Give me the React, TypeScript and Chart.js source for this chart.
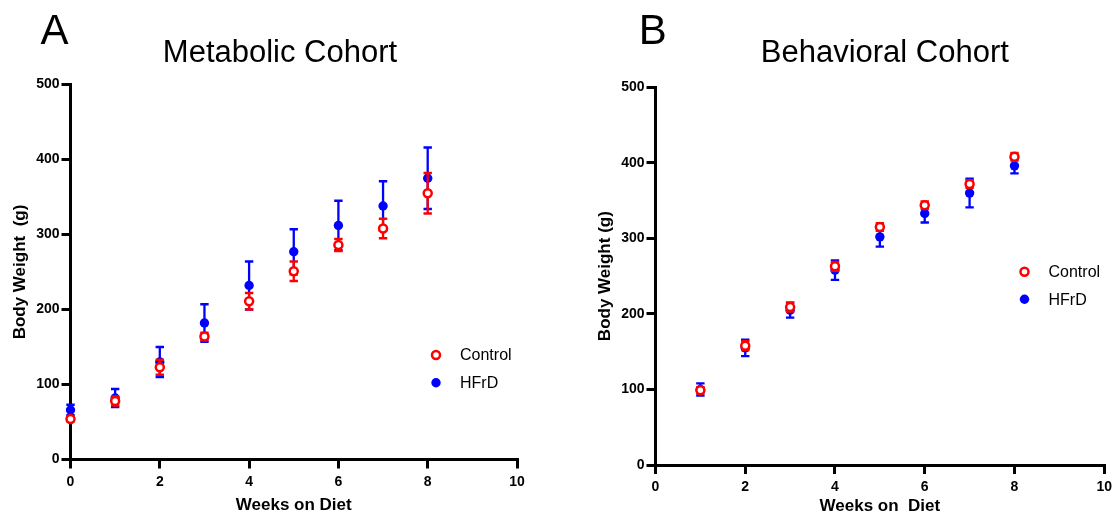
import { useEffect, useRef } from "react";
import { Chart, registerables } from "chart.js";

Chart.register(...registerables);

const FONT = "'Liberation Sans', Arial, Helvetica, sans-serif";

// ---------------- data ----------------
const weeksA = [0, 1, 2, 3, 4, 5, 6, 7, 8];
const controlMeanA = [54, 78, 123, 164, 211, 251, 286, 308, 355];
const controlErrA = [3, 6, 10, 5, 11, 13, 8, 13, 27];
const hfrdMeanA = [66, 82, 130, 182, 232, 277, 312, 338, 375];
const hfrdErrA = [7, 12, 20, 25, 32, 30, 33, 33, 41];

const weeksB = [1, 2, 3, 4, 5, 6, 7, 8];
const controlMeanB = [99, 158, 209, 263, 315, 344, 372, 408];
const controlErrB = [4, 6, 6, 6, 5, 5, 5, 5];
const hfrdMeanB = [100, 155, 205, 258, 302, 333, 360, 396];
const hfrdErrB = [8, 11, 10, 13, 13, 12, 19, 10];

const seriesLabels = ["Control", "HFrD"];
const xMin = 0, xMax = 10, xStep = 2;
const yMin = 0, yMax = 500, yStep = 100;

const RED = "#ff0000";
const BLUE = "#0000ff";

// ---------------- plugins ----------------
const errorBarPlugin = {
  id: "errorBars",
  beforeDatasetDraw(chart: any, args: any, opts: any) {
    const errs = opts?.errors?.[args.index];
    if (!errs) return;
    const ds = chart.data.datasets[args.index];
    const ys = chart.scales.y;
    const ctx = chart.ctx;
    ctx.save();
    ctx.strokeStyle = ds.borderColor;
    ctx.lineWidth = 2.3;
    args.meta.data.forEach((pt: any, i: number) => {
      const v = ds.data[i].y;
      const e = errs[i];
      const x = pt.x;
      const yt = ys.getPixelForValue(v + e);
      const yb = ys.getPixelForValue(v - e);
      const cw = 4.2;
      ctx.beginPath();
      ctx.moveTo(x, yt);
      ctx.lineTo(x, yb);
      ctx.moveTo(x - cw, yt);
      ctx.lineTo(x + cw, yt);
      ctx.moveTo(x - cw, yb);
      ctx.lineTo(x + cw, yb);
      ctx.stroke();
    });
    ctx.restore();
  },
};

const decorPlugin = {
  id: "decor",
  afterDraw(chart: any, _args: any, o: any) {
    const ctx = chart.ctx;
    ctx.save();
    ctx.fillStyle = "#000";
    ctx.textBaseline = "alphabetic";
    ctx.textAlign = "center";
    ctx.font = `42px ${FONT}`;
    ctx.fillText(o.letter, o.letterX, o.letterY);
    ctx.font = `31px ${FONT}`;
    ctx.fillText(o.title, o.titleX, o.titleY);
    // legend
    const { lx, ly, gap, textDx } = o;
    ctx.beginPath();
    ctx.arc(lx, ly, 4, 0, Math.PI * 2);
    ctx.fillStyle = "#fff";
    ctx.fill();
    ctx.lineWidth = 2.5;
    ctx.strokeStyle = RED;
    ctx.stroke();
    ctx.beginPath();
    ctx.arc(lx, ly + gap, 4.7, 0, Math.PI * 2);
    ctx.fillStyle = BLUE;
    ctx.fill();
    ctx.fillStyle = "#000";
    ctx.font = `16px ${FONT}`;
    ctx.textAlign = "left";
    ctx.textBaseline = "middle";
    ctx.fillText(seriesLabels[0], lx + textDx, ly + 1);
    ctx.fillText(seriesLabels[1], lx + textDx, ly + gap + 1);
    ctx.restore();
  },
};

type Panel = {
  left: number;
  width: number;
  pad: { left: number; right: number; top: number; bottom: number };
  yWidth: number;
  xHeight: number;
  xTitle: string;
  yTitle: string;
  xTitlePadBottom: number;
  weeks: number[];
  cMean: number[];
  cErr: number[];
  hMean: number[];
  hErr: number[];
  decor: any;
};

const panels: Panel[] = [
  {
    left: 0,
    width: 560,
    pad: { left: 0, right: 43, top: 84.5, bottom: 0 },
    yWidth: 70.5,
    xHeight: 59.5,
    xTitle: "Weeks on Diet",
    yTitle: "Body Weight  (g)",
    xTitlePadBottom: 3,
    weeks: weeksA,
    cMean: controlMeanA,
    cErr: controlErrA,
    hMean: hfrdMeanA,
    hErr: hfrdErrA,
    decor: {
      letter: "A", letterX: 54.5, letterY: 43.5,
      title: "Metabolic Cohort", titleX: 280, titleY: 61.5,
      lx: 436, ly: 355, gap: 27.7, textDx: 24,
    },
  },
  {
    left: 560,
    width: 557,
    pad: { left: 25.3, right: 11.5, top: 87.3, bottom: 0 },
    yWidth: 70.2,
    xHeight: 54,
    xTitle: "Weeks on  Diet",
    yTitle: "Body Weight (g)",
    xTitlePadBottom: 2,
    weeks: weeksB,
    cMean: controlMeanB,
    cErr: controlErrB,
    hMean: hfrdMeanB,
    hErr: hfrdErrB,
    decor: {
      letter: "B", letterX: 92.7, letterY: 43.5,
      title: "Behavioral Cohort", titleX: 324.8, titleY: 61.5,
      lx: 464.5, ly: 271.7, gap: 27.6, textDx: 24,
    },
  },
];

function PanelChart({ p }: { p: Panel }) {
  const ref = useRef<HTMLCanvasElement | null>(null);
  useEffect(() => {
    if (!ref.current) return;
    const axisFontTick = { family: FONT, size: 14, weight: "bold" as const };
    const axisFontTitle = { family: FONT, size: 17, weight: "bold" as const };
    const chart = new Chart(ref.current, {
      type: "scatter",
      data: {
        datasets: [
          {
            label: seriesLabels[0],
            data: p.weeks.map((w, i) => ({ x: w, y: p.cMean[i] })),
            borderColor: RED,
            backgroundColor: "#ffffff",
            pointRadius: 4,
            pointBorderWidth: 2.5,
            pointHoverRadius: 4,
            showLine: false,
            clip: false,
          },
          {
            label: seriesLabels[1],
            data: p.weeks.map((w, i) => ({ x: w, y: p.hMean[i] })),
            borderColor: BLUE,
            backgroundColor: BLUE,
            pointRadius: 4.7,
            pointBorderWidth: 0,
            pointHoverRadius: 4.7,
            showLine: false,
            clip: false,
          },
        ],
      },
      options: {
        responsive: false,
        animation: false,
        events: [],
        layout: { padding: p.pad },
        plugins: {
          legend: { display: false },
          tooltip: { enabled: false },
          title: { display: false },
          errorBars: { errors: [p.cErr, p.hErr] },
          decor: p.decor,
        } as any,
        scales: {
          x: {
            type: "linear",
            min: xMin,
            max: xMax,
            ticks: { stepSize: xStep, font: axisFontTick, color: "#000", padding: 5 },
            grid: { drawOnChartArea: false, drawTicks: true, tickLength: 9, color: "#000", lineWidth: 3 },
            border: { display: true, color: "#000", width: 3 },
            title: {
              display: true,
              text: p.xTitle,
              font: axisFontTitle,
              color: "#000",
              padding: { top: 0, bottom: p.xTitlePadBottom },
            },
            afterFit: (s: any) => {
              s.height = p.xHeight;
            },
          },
          y: {
            type: "linear",
            min: yMin,
            max: yMax,
            ticks: { stepSize: yStep, font: axisFontTick, color: "#000", padding: 2 },
            grid: { drawOnChartArea: false, drawTicks: true, tickLength: 9, color: "#000", lineWidth: 3 },
            border: { display: true, color: "#000", width: 3 },
            title: {
              display: true,
              text: p.yTitle,
              font: axisFontTitle,
              color: "#000",
              padding: { top: 10, bottom: 0 },
            },
            afterFit: (s: any) => {
              s.width = p.yWidth;
            },
          },
        },
      },
      plugins: [errorBarPlugin, decorPlugin],
    } as any);
    return () => chart.destroy();
  }, [p]);
  return (
    <canvas
      ref={ref}
      width={p.width}
      height={519}
      style={{ position: "absolute", left: p.left, top: 0, width: p.width, height: 519, display: "block" }}
    />
  );
}

export default function App() {
  return (
    <div
      style={{
        position: "absolute",
        left: 0,
        top: 0,
        width: 1117,
        height: 519,
        background: "#fff",
        overflow: "hidden",
      }}
    >
      {panels.map((p, i) => (
        <PanelChart key={i} p={p} />
      ))}
    </div>
  );
}
